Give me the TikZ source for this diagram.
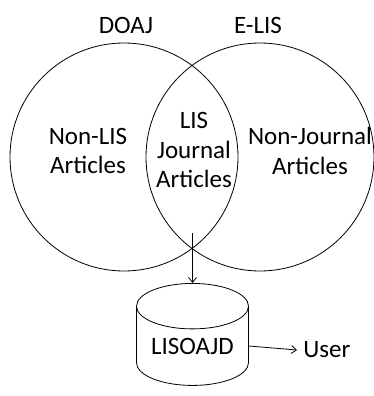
\documentclass[tikz,border=0pt]{standalone}
\usepackage{fontspec}
\setmainfont{Carlito}
\usetikzlibrary{arrows.meta,positioning,shapes.geometric}

\begin{document}
\begin{tikzpicture}[x=1pt,y=-1pt,line width=0.8pt,
  lbl/.style={font=\fontsize{25}{29.5}\selectfont,align=center,inner sep=0pt},
  set/.style={draw,circle,minimum size=228pt,inner sep=0pt},
  flow/.style={-{Straight Barb[length=5pt,width=8pt]}}]
\useasboundingbox (0,0) rectangle (374,396);
% the two collections
\node[set] (doaj) at (124,157) {};
\node[set] (elis) at (260,157) {};
\node[lbl] (doajname) at (126,25) {DOAJ};
\node[lbl] (elisname) at (258,25) {E-LIS};
% regions
\node[lbl] (nonlis) at (88,151) {Non-LIS\\Articles};
\node[lbl] (lisjournal) at (194,150) {LIS\\Journal\\Articles};
\node[lbl] (nonjournal) at (310,151) {Non-Journal\\Articles};
% the directory
\node[cylinder,shape border rotate=90,draw,aspect=0.55,minimum width=112pt,
  minimum height=102pt,lbl] (lisoajd) at (192.5,346) {LISOAJD};
\node[lbl,inner sep=6pt,anchor=west] (user) at (297,350) {User};
\coordinate (lens) at (192.5,233);
\draw[flow] (lens) -- (lisoajd.north);
\draw[flow] (lisoajd.east) -- (user.west);
\end{tikzpicture}
\end{document}
